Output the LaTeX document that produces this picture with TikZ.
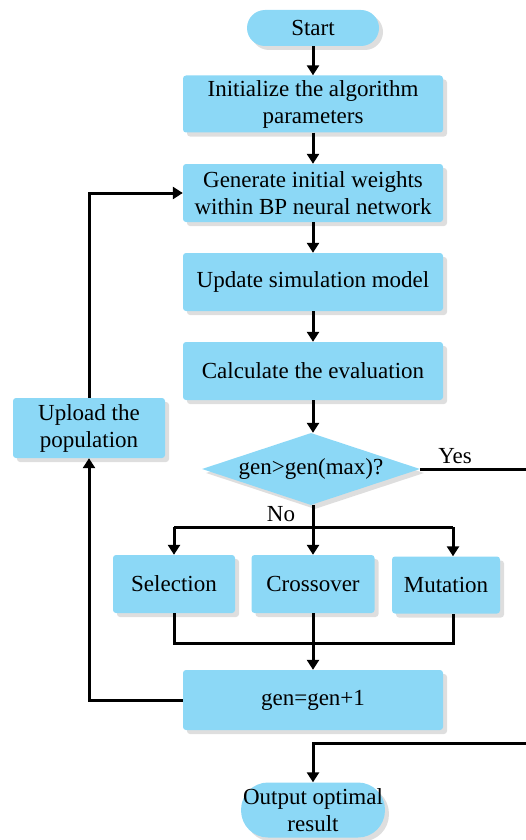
\documentclass[tikz,border=0pt]{standalone}
\usepackage{fontspec}
\newfontfamily\diafont{Liberation Serif}
\usetikzlibrary{shapes.geometric,shadows,arrows.meta}

\definecolor{boxblue}{RGB}{140,216,246}

\tikzset{
  base/.style={fill=boxblue, align=center, inner sep=2pt,
    font=\diafont\fontsize{23}{27}\selectfont,
    drop shadow={shadow xshift=4pt, shadow yshift=-4pt, fill=black!13, opacity=1}},
  procbox/.style={base, rectangle, rounded corners=3pt},
  termbox/.style={base, rectangle},
  testbox/.style={base, diamond, aspect=3, inner sep=0pt},
  lbl/.style={font=\diafont\fontsize{23}{27}\selectfont},
  flow/.style={line width=3pt, -{Triangle[length=10pt,width=12pt]}},
  wire/.style={line width=3pt}
}

\begin{document}
\begin{tikzpicture}[x=1pt,y=-1pt]
\useasboundingbox (0,0) rectangle (526,840);

% main column
\node (st) [termbox, rounded corners=18pt, minimum width=132pt, minimum height=36pt] at (313,28) {Start};
\node (ini) [procbox, minimum width=260pt, minimum height=57pt] at (313,104)
  {Initialize the algorithm\\parameters};
\node (gw) [procbox, minimum width=260pt, minimum height=58pt] at (313,193)
  {Generate initial weights\\within BP neural network};
\node (um) [procbox, minimum width=260pt, minimum height=58pt] at (313,282)
  {Update simulation model};
\node (ce) [procbox, minimum width=260pt, minimum height=58pt] at (313,371)
  {Calculate the evaluation};
\node (gm) [testbox, minimum width=218pt, minimum height=72pt] at (311,469)
  {gen>gen(max)?};

% genetic operators
\node (sel) [procbox, minimum width=122pt, minimum height=58pt] at (174,584) {Selection};
\node (cro) [procbox, minimum width=123pt, minimum height=58pt] at (313,584) {Crossover};
\node (mut) [procbox, minimum width=108pt, minimum height=57pt] at (446,585) {Mutation};
\node (gen) [procbox, minimum width=260pt, minimum height=60pt] at (313,700) {gen=gen+1};

\node (up) [procbox, minimum width=152pt, minimum height=60pt] at (89,428)
  {Upload the\\population};
\node (out) [termbox, rounded corners=27pt, minimum width=140pt, minimum height=55pt] at (313,810)
  {Output optimal\\result};

% straight arrows
\draw[flow] (st) -- (ini);
\draw[flow] (ini) -- (gw);
\draw[flow] (gw) -- (um);
\draw[flow] (um) -- (ce);
\draw[flow] (ce.south) -- (ce.south |- gm.north);

% branch to operators
\coordinate (nb) at (313,527);
\coordinate (mb) at (453,527);
\draw[wire] (gm.south -| nb) -- (nb);
\node [lbl] at (281,514) {No};
\draw[wire] (sel.north |- nb) -- (mb);
\draw[flow] (sel.north |- nb) -- (sel.north);
\draw[flow] (nb) -- (cro.north);
\draw[flow] (mb) -- (mb |- mut.north);

% merge into gen=gen+1
\coordinate (mg) at (313,643);
\draw[wire] (sel.south) -- (sel.south |- mg) -- (mb |- mg) -- (mb |- mut.south);
\draw[wire] (cro.south) -- (mg);
\draw[flow] (mg) -- (gen.north);

% loop back
\draw[flow] (gen.west) -- (up.south |- gen.west) -- (up.south);
\draw[flow] (up.north) -- (up.north |- gw.west) -- (gw.west);

% exit on Yes
\coordinate (yr) at (526,469);
\draw[wire] (gm.east) -- (yr);
\node [lbl] at (455,456) {Yes};
\coordinate (or) at (526,743);
\draw[flow] (or) -- (out.north |- or) -- (out.north);
\end{tikzpicture}
\end{document}
